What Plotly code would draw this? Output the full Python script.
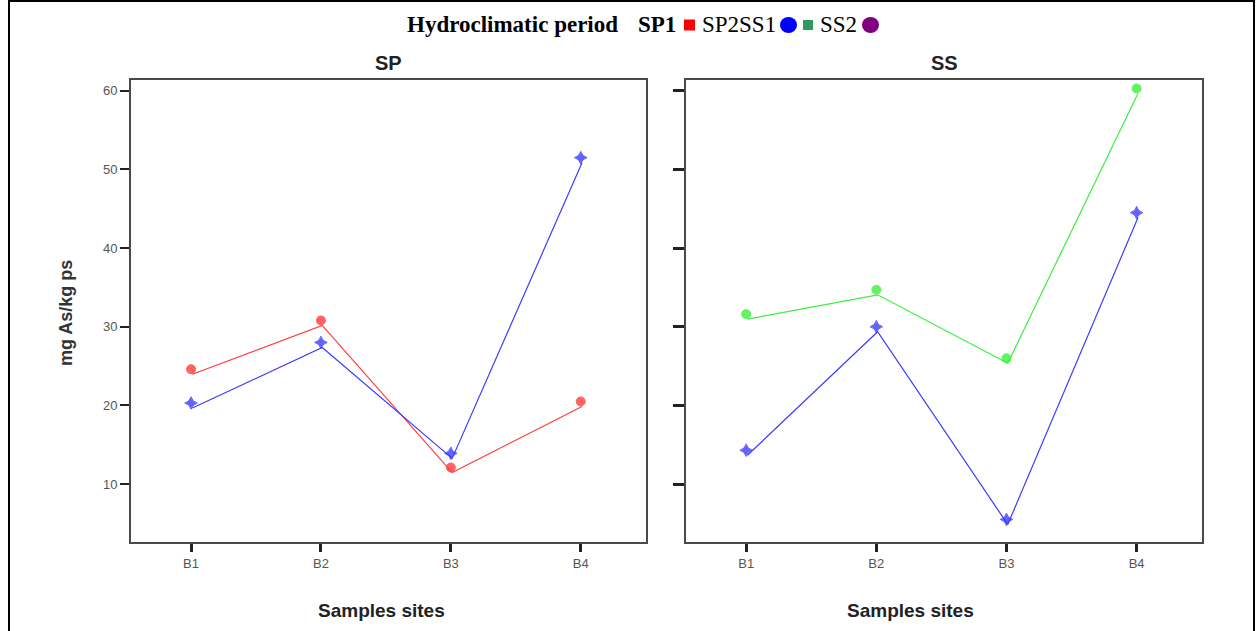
import plotly.graph_objects as go

# Sampling sites and arsenic concentrations (mg As/kg ps)
sites = ["B1", "B2", "B3", "B4"]
sp1_values = [24.6, 30.8, 12.1, 20.5]   # SP panel, red series
sp2_values = [20.3, 28.0, 13.9, 51.5]   # SP panel, blue series
ss1_values = [31.6, 34.7, 26.0, 60.3]   # SS panel, green series
ss2_values = [14.3, 30.0, 5.5, 44.5]    # SS panel, blue series

y_ticks = [10, 20, 30, 40, 50, 60]
panel_titles = ["SP", "SS"]
x_title = "Samples sites"
y_title = "mg As/kg ps"

W, H = 1256, 631
def px(x):
    return x / W
def py(y):
    return 1 - y / H

RED, BLUE, GREEN = "#ff3b3b", "#3b3bff", "#3bef3b"
Y_RANGE = [2.5, 61.5]
X_RANGE = [-0.47, 3.51]
# connecting lines sit a few pixels below/right of their markers
LINE_DY = 0.64
LINE_DX = 0.01

fig = go.Figure()

def add_series(values, color, symbol, xa, ya, xa_line, ya_line, name):
    fig.add_trace(go.Scatter(
        x=sites, y=values, mode="lines", name=name,
        line=dict(color=color, width=1.2),
        xaxis=xa_line, yaxis=ya_line, showlegend=False, hoverinfo="skip"))
    fig.add_trace(go.Scatter(
        x=sites, y=values, mode="markers", name=name,
        marker=dict(symbol=symbol, size=9, color=color, opacity=0.8,
                    line=dict(color=color, width=1)),
        xaxis=xa, yaxis=ya, showlegend=False))

add_series(sp1_values, RED, "circle-x", "x", "y", "x3", "y3", "SP1")
add_series(sp2_values, BLUE, "star-diamond", "x", "y", "x3", "y3", "SP2")
add_series(ss1_values, GREEN, "circle-x", "x2", "y2", "x4", "y4", "SS1")
add_series(ss2_values, BLUE, "star-diamond", "x2", "y2", "x4", "y4", "SS2")

dom_y = [py(543), py(79)]
dom_x1 = [px(130), px(647)]
dom_x2 = [px(685), px(1203)]

tick_font = dict(family="Arial, Liberation Sans", size=13, color="#555")
xcommon = dict(type="category", range=X_RANGE, showline=False, showgrid=False,
               zeroline=False, ticks="outside", ticklen=8, tickwidth=2.5,
               tickcolor="#222", tickfont=tick_font)
ycommon = dict(range=Y_RANGE, tickvals=y_ticks, showline=False, showgrid=False,
               zeroline=False, ticks="outside", tickcolor="#222")

fig.update_layout(
    width=W, height=H, margin=dict(l=0, r=0, t=0, b=0),
    paper_bgcolor="white", plot_bgcolor="white",
    xaxis=dict(domain=dom_x1, anchor="y", **xcommon),
    xaxis2=dict(domain=dom_x2, anchor="y2", **xcommon),
    yaxis=dict(domain=dom_y, anchor="x", ticklen=9, tickwidth=2,
               tickfont=tick_font, **ycommon),
    yaxis2=dict(domain=dom_y, anchor="x2", ticklen=11, tickwidth=3,
                showticklabels=False, **ycommon),
    xaxis3=dict(type="category", overlaying="x", anchor="y3", visible=False,
                range=[X_RANGE[0] - LINE_DX, X_RANGE[1] - LINE_DX]),
    yaxis3=dict(overlaying="y", anchor="x3", visible=False,
                range=[Y_RANGE[0] + LINE_DY, Y_RANGE[1] + LINE_DY]),
    xaxis4=dict(type="category", overlaying="x2", anchor="y4", visible=False,
                range=[X_RANGE[0] - LINE_DX, X_RANGE[1] - LINE_DX]),
    yaxis4=dict(overlaying="y2", anchor="x4", visible=False,
                range=[Y_RANGE[0] + LINE_DY, Y_RANGE[1] + LINE_DY]),
)

# panel frames
for xr, yr in [("x domain", "y domain"), ("x2 domain", "y2 domain")]:
    fig.add_shape(type="rect", xref=xr, yref=yr, x0=0, x1=1, y0=0, y1=1,
                  line=dict(color="#4a4a4a", width=2), fillcolor="rgba(0,0,0,0)")

# outer border of the figure
fig.add_shape(type="rect", xref="paper", yref="paper",
              x0=px(9), x1=px(1254), y0=-0.05, y1=py(1),
              line=dict(color="black", width=2), fillcolor="rgba(0,0,0,0)")

# key line: text pieces and colour swatches
serif = "Liberation Serif, Times New Roman, serif"
KEY_Y = 25
key_texts = [("<b>Hydroclimatic period</b>", 403, 621),
             ("<b>SP1</b>", 638, 676),
             ("SP2SS1", 699, 778),
             ("SS2", 817, 860)]
key_swatches = [("rect", "#ff0000", 684, 695, 11),
                ("circle", "#0000ff", 780, 797, 16),
                ("rect", "#2e9a5e", 803, 813, 10),
                ("circle", "#800080", 862, 879, 16)]

ann = []
for t, x0, x1 in key_texts:
    ann.append(dict(text=t, x=px((x0 + x1) / 2), y=py(KEY_Y), xref="paper", yref="paper",
                    showarrow=False, xanchor="center", yanchor="middle",
                    font=dict(family=serif, size=23, color="black")))
for kind, col, x0, x1, h in key_swatches:
    fig.add_shape(type=kind, xref="paper", yref="paper",
                  x0=px(x0), x1=px(x1), y0=py(KEY_Y + h / 2), y1=py(KEY_Y - h / 2),
                  fillcolor=col, line=dict(width=0))

sans = "Arial, Liberation Sans"
# panel titles
for t, cx in zip(panel_titles, [388, 944]):
    ann.append(dict(text=f"<b>{t}</b>", x=px(cx), y=py(63), xref="paper", yref="paper",
                    showarrow=False, xanchor="center", yanchor="middle",
                    font=dict(family=sans, size=20, color="#222")))
# x titles
for cx in [381, 910]:
    ann.append(dict(text=f"<b>{x_title}</b>", x=px(cx), y=py(610), xref="paper", yref="paper",
                    showarrow=False, xanchor="center", yanchor="middle",
                    font=dict(family=sans, size=19, color="#222")))
# y title
ann.append(dict(text=f"<b>{y_title}</b>", x=px(66), y=py(313), xref="paper", yref="paper",
                showarrow=False, xanchor="center", yanchor="middle", textangle=-90,
                font=dict(family=sans, size=18, color="#333")))
fig.update_layout(annotations=ann)

fig.write_html("out.html")
